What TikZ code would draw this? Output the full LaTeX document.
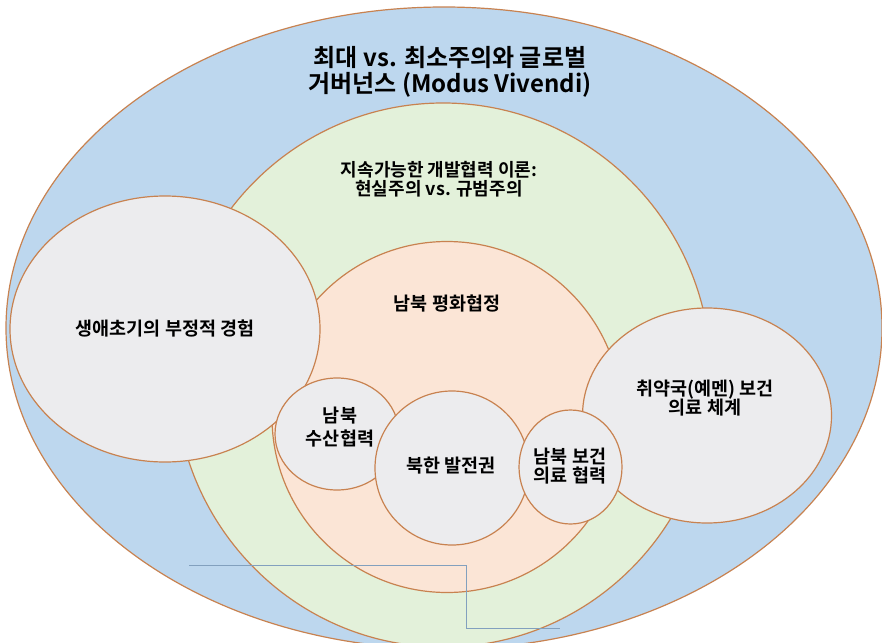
\documentclass[tikz,border=0pt]{standalone}
\usepackage{fontspec}
\setmainfont{Noto Sans CJK KR Bold}
\newfontfamily\krb{Noto Sans CJK KR Bold}
\usetikzlibrary{shapes.geometric}
\definecolor{bord}{RGB}{200,130,80}
\definecolor{cblue}{RGB}{189,215,238}
\definecolor{cgreen}{RGB}{227,241,218}
\definecolor{cpeach}{RGB}{251,229,214}
\definecolor{cgray}{RGB}{236,236,238}
\definecolor{conn}{RGB}{130,160,190}
\tikzset{
  blob/.style={ellipse, draw=bord, line width=1.2pt, inner sep=0pt},
  lbl/.style={align=center, inner sep=0pt, text=black, font=\krb\fontsize{18.5}{19.5}\selectfont},
  connline/.style={draw=conn, line width=0.8pt}
}
\begin{document}
\begin{tikzpicture}[x=1pt,y=-1pt]
\useasboundingbox (0,0) rectangle (882,642);
\clip (0,0) rectangle (882,642);
\fill[white] (0,0) rectangle (882,642);
% shapes
\node[blob, fill=cblue, minimum width=876pt, minimum height=642pt] (outer) at (444,328) {};
\node[blob, fill=cgreen, minimum width=536pt, minimum height=544pt] (green) at (443,375) {};
\node[blob, fill=cpeach, minimum width=350pt, minimum height=351pt] (peach) at (447,417) {};
\node[blob, fill=cgray, minimum width=310pt, minimum height=266pt] (early) at (165,329) {};
\node[blob, fill=cgray, minimum width=249pt, minimum height=215pt] (yemen) at (707,415.5) {};
\node[blob, fill=cgray, minimum width=124pt, minimum height=112pt] (fish) at (337,434) {};
\node[blob, fill=cgray, minimum width=154pt, minimum height=154pt] (dev) at (452,468) {};
\node[blob, fill=cgray, minimum width=103pt, minimum height=114pt] (health) at (570.5,467) {};
% labels
\node[lbl, font=\krb\fontsize{24}{26}\selectfont] (tOuter) at (450,72) {최대 vs. 최소주의와 글로벌\\거버넌스 (Modus Vivendi)};
\node[lbl, font=\krb\fontsize{18}{19.5}\selectfont] (tGreen) at (439,179) {지속가능한 개발협력 이론:\\현실주의 vs. 규범주의};
\node[lbl] (tPeach) at (447,304) {남북 평화협정};
\node[lbl] (tEarly) at (165,329) {생애초기의 부정적 경험};
\node[lbl] (tYemen) at (705,398) {취약국(예멘) 보건\\의료 체계};
\node[lbl, font=\krb\fontsize{18.5}{23}\selectfont] (tFish) at (340,427) {남북\\수산협력};
\node[lbl] (tDev) at (451,466) {북한 발전권};
\node[lbl] (tHealth) at (570,466) {남북 보건\\의료 협력};
% connector
\coordinate (cA) at (189,565);
\coordinate (cB) at (560,628);
\draw[connline] (cA) -- ++(277,0) |- (cB);
\end{tikzpicture}
\end{document}
